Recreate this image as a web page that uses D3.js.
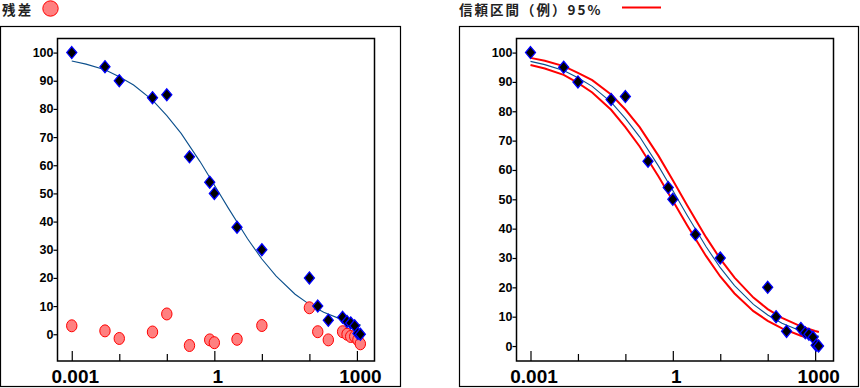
<!DOCTYPE html>
<html>
<head>
<meta charset="utf-8">
<script src="https://cdn.jsdelivr.net/npm/d3@7"></script>
<style>
  body { margin: 0; background: #fff; }
  svg { display: block; }
</style>
</head>
<body>
<svg width="860" height="388"></svg>
<script>
// measured points
const doseX = [0.001, 0.005, 0.01, 0.05, 0.1, 0.3, 0.8, 1, 3, 10, 100, 150, 250, 500, 620, 740, 900, 1050, 1180];
const responseY = [100, 95, 90, 84, 85, 63, 54, 50, 38, 30, 20, 10, 5, 6, 4.5, 4, 3, 0.3, 0];
const residualY = [3, 1.2, -1.5, 0.8, 7.2, -4, -2, -3, -1.8, 3.1, 9.4, 0.9, -2, 0.9, 0, -0.8, -0.8, -2, -3.4];

// fitted curve + 95% band
const curveX = [0.001, 0.002, 0.005, 0.01, 0.02, 0.05, 0.1, 0.2, 0.5, 1, 2, 5, 10, 20, 50, 100, 200, 500, 1000, 1200];
const fitY = [97.0, 95.9, 93.9, 91.4, 88.5, 83.1, 77.6, 71.3, 61.3, 53.0, 44.6, 33.9, 26.7, 20.6, 14.2, 10.6, 7.8, 5.1, 3.6, 3.3];
const upperY = [98.2, 97.2, 95.4, 93.1, 90.6, 85.7, 80.6, 74.6, 64.8, 56.5, 48.0, 37.1, 29.7, 23.3, 16.5, 12.6, 9.6, 6.7, 5.1, 4.8];
const lowerY = [95.8, 94.6, 92.4, 89.7, 86.4, 80.5, 74.6, 68.0, 57.8, 49.5, 41.2, 30.7, 23.7, 17.9, 11.9, 8.6, 6.0, 3.5, 2.1, 1.8];

const yTicks = [0, 10, 20, 30, 40, 50, 60, 70, 80, 90, 100];
const xTicks = [0.001, 0.01, 0.1, 1, 10, 100, 1000];
const xLabels = ['0.001', '', '', '1', '', '', '1000'];

const svg = d3.select('svg');
svg.append('rect').attr('width', 860).attr('height', 388).attr('fill', '#fff');

const curveColor = '#0b4f8c';
const bandColor = '#ff0000';

function diamond(g, xs, ys, x, y) {
  g.selectAll('path.pt')
    .data(xs.map((d, i) => [d, ys[i]]))
    .join('path')
    .attr('class', 'pt')
    .attr('d', d => {
      const cx = x(d[0]); const cy = y(d[1]);
      return `M${cx},${cy - 6}L${cx + 5},${cy}L${cx},${cy + 6}L${cx - 5},${cy}Z`;
    })
    .attr('fill', '#000')
    .attr('stroke', '#0000ff')
    .attr('stroke-width', 1.3);
}

function drawPanel(cfg) {
  const g = svg.append('g');
  g.append('rect')
    .attr('x', cfg.outer[0] + 0.5).attr('y', cfg.outer[1] + 0.5)
    .attr('width', cfg.outer[2] - cfg.outer[0]).attr('height', cfg.outer[3] - cfg.outer[1])
    .attr('fill', 'none').attr('stroke', '#000').attr('stroke-width', 1.2);

  const [l, t, r, b] = cfg.inner;
  const x = d3.scaleLog().domain(cfg.xDomain).range([l, r]);
  const y = d3.scaleLinear().domain(cfg.yDomain).range([b, t]);

  g.append('rect')
    .attr('x', l).attr('y', t).attr('width', r - l).attr('height', b - t)
    .attr('fill', 'none').attr('stroke', '#000').attr('stroke-width', 1.5);

  // y axis
  const ya = g.append('g')
    .attr('transform', `translate(${l},0)`)
    .call(d3.axisLeft(y).tickValues(yTicks).tickSize(4).tickPadding(0).tickFormat(d3.format('d')));
  ya.select('.domain').remove();
  ya.selectAll('line').attr('stroke', '#000').attr('stroke-width', 1.2);
  ya.selectAll('text')
    .attr('font-family', 'Liberation Sans, Arial, sans-serif')
    .attr('font-weight', 'bold')
    .attr('font-size', 12.5)
    .attr('fill', '#000');

  // x axis, ticks pointing into the plot
  const xa = g.append('g')
    .attr('transform', `translate(0,${b})`)
    .call(d3.axisBottom(x).tickValues(xTicks).tickSize(-10).tickPadding(9)
      .tickFormat((d, i) => xLabels[i]));
  xa.select('.domain').remove();
  xa.selectAll('line')
    .attr('stroke', '#000').attr('stroke-width', 1.2)
    .attr('y2', (d, i) => (xLabels[i] ? -10 : -7));
  xa.selectAll('text')
    .attr('dx', 3)
    .attr('font-family', 'Liberation Sans, Arial, sans-serif')
    .attr('font-weight', 'bold')
    .attr('font-size', 19)
    .attr('fill', '#000');

  const line = d3.line().x(d => x(d[0])).y(d => y(d[1]));

  if (cfg.bands) {
    [upperY, lowerY].forEach(arr => {
      g.append('path')
        .datum(curveX.map((d, i) => [d, arr[i]]))
        .attr('d', line)
        .attr('fill', 'none')
        .attr('stroke', bandColor)
        .attr('stroke-width', 2);
    });
  }

  g.append('path')
    .datum(curveX.map((d, i) => [d, fitY[i]]))
    .attr('d', line)
    .attr('fill', 'none')
    .attr('stroke', curveColor)
    .attr('stroke-width', 1.1);

  if (cfg.residuals) {
    g.selectAll('ellipse.res')
      .data(doseX.map((d, i) => [d, residualY[i]]))
      .join('ellipse')
      .attr('class', 'res')
      .attr('cx', d => x(d[0]))
      .attr('cy', d => y(d[1]))
      .attr('rx', 5.2)
      .attr('ry', 6)
      .attr('fill', '#ff8080')
      .attr('stroke', '#ff0000')
      .attr('stroke-width', 1);
  }

  diamond(g, doseX, responseY, x, y);
}

drawPanel({
  outer: [0, 26, 400, 386],
  inner: [57.5, 38.5, 374.5, 361],
  xDomain: [Math.pow(10, -3.3), Math.pow(10, 3.37)],
  yDomain: [-9.5, 105],
  residuals: true,
  bands: false,
});

drawPanel({
  outer: [459, 26, 858, 386],
  inner: [516.5, 38.5, 833.5, 361],
  xDomain: [Math.pow(10, -3.295), Math.pow(10, 3.387)],
  yDomain: [-5.1, 104.8],
  residuals: false,
  bands: true,
});

// legends
const legendFont = 'Noto Sans CJK JP, sans-serif';
svg.append('text')
  .attr('x', 2).attr('y', 15)
  .attr('font-family', legendFont).attr('font-weight', 'bold').attr('font-size', 13.5)
  .attr('letter-spacing', 2.2).attr('fill', '#222')
  .text('残差');
svg.append('ellipse')
  .attr('cx', 50.5).attr('cy', 8.5).attr('rx', 7.7).attr('ry', 7.7)
  .attr('fill', '#ff8080').attr('stroke', '#ff0000').attr('stroke-width', 1);

svg.append('text')
  .attr('x', 459).attr('y', 15)
  .attr('font-family', legendFont).attr('font-weight', 'bold').attr('font-size', 13.5)
  .attr('letter-spacing', 2).attr('fill', '#222')
  .text('信頼区間（例）95%');
svg.append('line')
  .attr('x1', 622).attr('x2', 661).attr('y1', 7.5).attr('y2', 7.5)
  .attr('stroke', bandColor).attr('stroke-width', 2);
</script>
</body>
</html>
